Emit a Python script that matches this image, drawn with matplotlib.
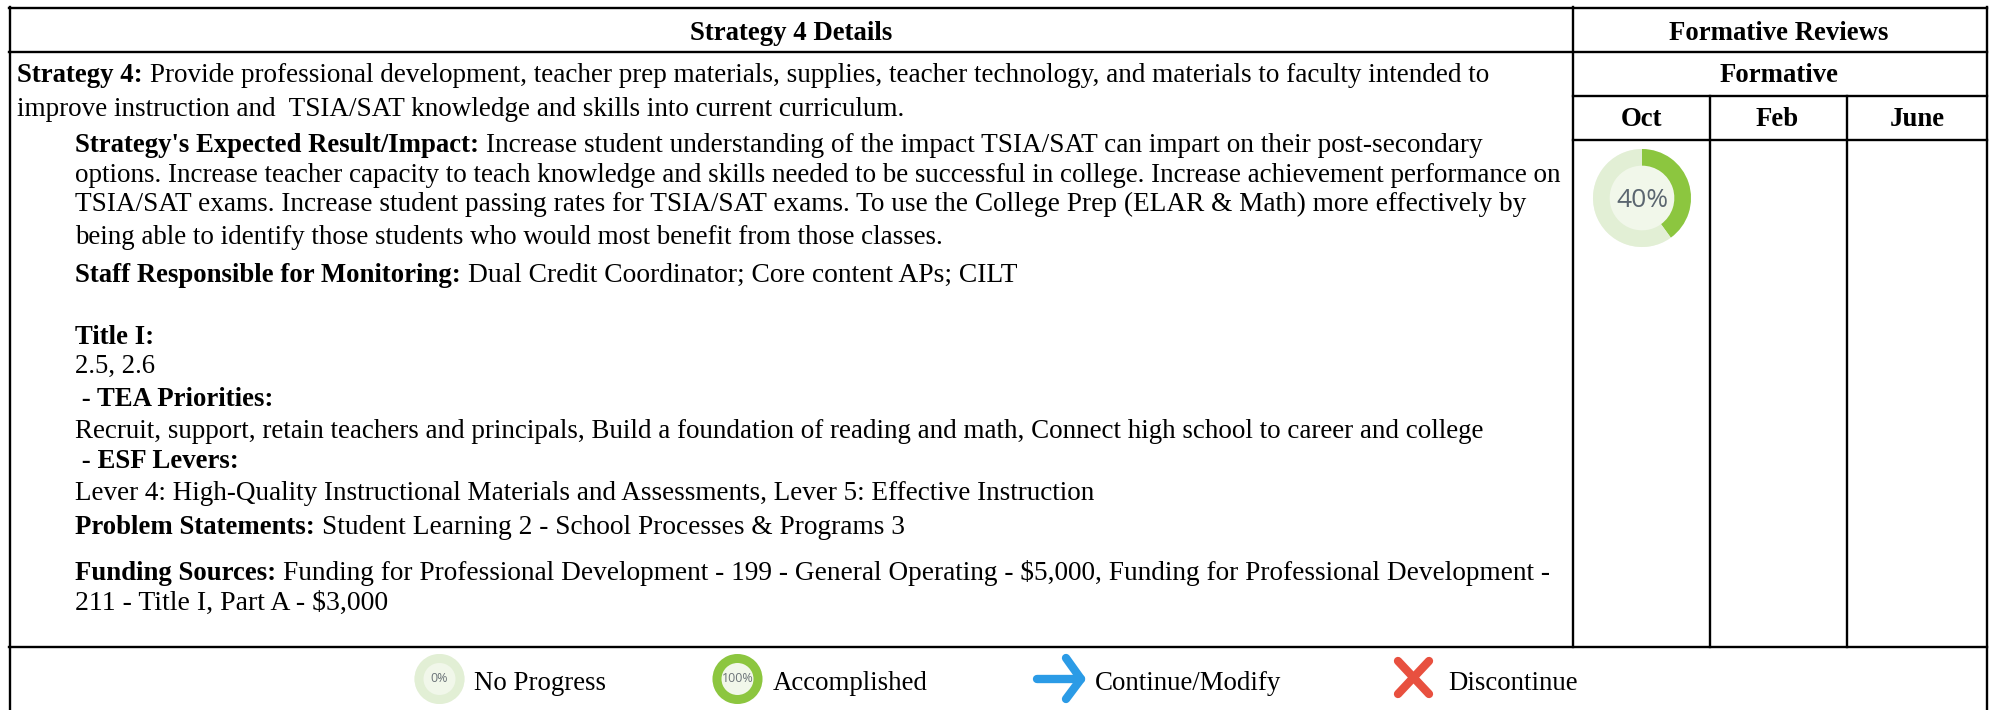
import matplotlib
matplotlib.use("Agg")
import matplotlib.pyplot as plt

W, H = 1995, 710
SERIF = "Liberation Serif"

header_left = "Strategy 4 Details"
header_right = "Formative Reviews"
sub_header = "Formative"
months = ["Oct", "Feb", "June"]
progress_values = [40, 60]
progress_label = "40%"
legend_labels = ["No Progress", "Accomplished", "Continue/Modify", "Discontinue"]
legend_gauges = [("0%", [0, 100]), ("100%", [100, 0])]

body_lines = [
    ("Strategy 4:", "Provide professional development, teacher prep materials, supplies, teacher technology, and materials to faculty intended to"),
    ("", "improve instruction and  TSIA/SAT knowledge and skills into current curriculum."),
    ("Strategy's Expected Result/Impact:", "Increase student understanding of the impact TSIA/SAT can impart on their post-secondary"),
    ("", "options. Increase teacher capacity to teach knowledge and skills needed to be successful in college. Increase achievement performance on"),
    ("", "TSIA/SAT exams. Increase student passing rates for TSIA/SAT exams. To use the College Prep (ELAR & Math) more effectively by"),
    ("", "being able to identify those students who would most benefit from those classes."),
    ("Staff Responsible for Monitoring:", "Dual Credit Coordinator; Core content APs; CILT"),
    ("Title I:", ""),
    ("", "2.5, 2.6"),
    (" - TEA Priorities:", ""),
    ("", "Recruit, support, retain teachers and principals, Build a foundation of reading and math, Connect high school to career and college"),
    (" - ESF Levers:", ""),
    ("", "Lever 4: High-Quality Instructional Materials and Assessments, Lever 5: Effective Instruction"),
    ("Problem Statements:", "Student Learning 2 - School Processes & Programs 3"),
    ("Funding Sources:", "Funding for Professional Development - 199 - General Operating - $5,000, Funding for Professional Development -"),
    ("", "211 - Title I, Part A - $3,000"),
]

# layout of the text block, in pixels
line_x = [17, 17] + [75] * 14
line_y = [73, 107, 143, 172, 201, 234, 272, 335, 363, 397, 429, 459, 490, 525, 570, 600]
line_end = [1489, 904, 1483, 1562, 1520, 944, 1016, None, None, None, 1484, None, 1093, 904, 1544, 388]

GREEN, PALE, PALER = "#8cc63f", "#e2efd5", "#f1f7ea"
BLUE, RED = "#2b9be6", "#e8503f"

fig = plt.figure(figsize=(W / 100, H / 100), dpi=100, facecolor="white")
ax = fig.add_axes([0, 0, 1, 1])
ax.set_xlim(0, W)
ax.set_ylim(H, 0)
ax.axis("off")


def vline(x, y0, y1, lw=1.7):
    ax.plot([x, x], [y0, y1], color="black", lw=lw, solid_capstyle="projecting")


def hline(y, x0, x1, lw=1.7):
    ax.plot([x0, x1], [y, y], color="black", lw=lw, solid_capstyle="projecting")


# table grid
hline(7.5, 9, 1987)
hline(52, 9, 1987)
hline(96, 1573, 1987)
hline(140, 1573, 1987)
hline(647, 9, 1987)
vline(9.5, 7, 710)
vline(1987, 7, 710)
vline(1573, 7, 647)
vline(1710, 96, 647)
vline(1847, 96, 647)

FS = 19.3
hdr = dict(ha="center", va="center", family=SERIF, weight="bold", fontsize=FS)
ax.text(791, 33, header_left, **hdr)
ax.text(1779, 33, header_right, **hdr)
ax.text(1779, 76, sub_header, **hdr)
for cx, m in zip([1641, 1777, 1917], months):
    ax.text(cx, 120, m, **hdr)

fig.canvas.draw()
rend = fig.canvas.get_renderer()
for (bold, plain), x, y, end in zip(body_lines, line_x, line_y, line_end):
    cur = x
    if bold:
        t = ax.text(cur, y, bold, ha="left", va="center_baseline", family=SERIF, weight="bold", fontsize=FS)
        cur += t.get_window_extent(rend).width + 7
    if plain:
        t = ax.text(cur, y, plain, ha="left", va="center_baseline", family=SERIF, fontsize=FS)
        if end is not None:
            t.set_fontsize(FS * (end - cur) / t.get_window_extent(rend).width)


def gauge(cx, cy, r, vals, label, fs, hole=0.66, color="#5b6670", dy=0.0):
    a = fig.add_axes([(cx - r) / W, 1 - (cy + r) / H, 2 * r / W, 2 * r / H])
    a.pie([1], colors=[PALER], radius=1)
    a.pie(vals, colors=[GREEN, PALE], startangle=90, counterclock=False, radius=1,
          wedgeprops=dict(width=1 - hole))
    a.set_xlim(-1, 1)
    a.set_ylim(-1, 1)
    a.patch.set_alpha(0)
    a.text(0, dy, label, ha="center", va="center", family="Open Sans", fontsize=fs, color=color)


gauge(1642, 198, 49, progress_values, progress_label, 19, dy=-0.05)
for (label, vals), cx, fs in zip(legend_gauges, [439.5, 737.5], [9, 9]):
    gauge(cx, 679, 25, vals, label, fs, hole=0.64, color="#6b7378")

LFS = 19.4
for x, s in zip([474, 772.5, 1095, 1448], legend_labels):
    ax.text(x, 684, s, ha="left", va="center", family=SERIF, fontsize=LFS)

# continue/modify arrow
ax.plot([1037, 1081], [679, 679], color=BLUE, lw=6, solid_capstyle="round")
ax.plot([1066, 1081, 1066], [658, 679, 699], color=BLUE, lw=6, solid_capstyle="round", solid_joinstyle="round")
# discontinue cross
ax.plot([1398, 1429], [661, 694], color=RED, lw=6, solid_capstyle="round")
ax.plot([1429, 1398], [661, 694], color=RED, lw=6, solid_capstyle="round")

fig.savefig("out.png", dpi=100)
